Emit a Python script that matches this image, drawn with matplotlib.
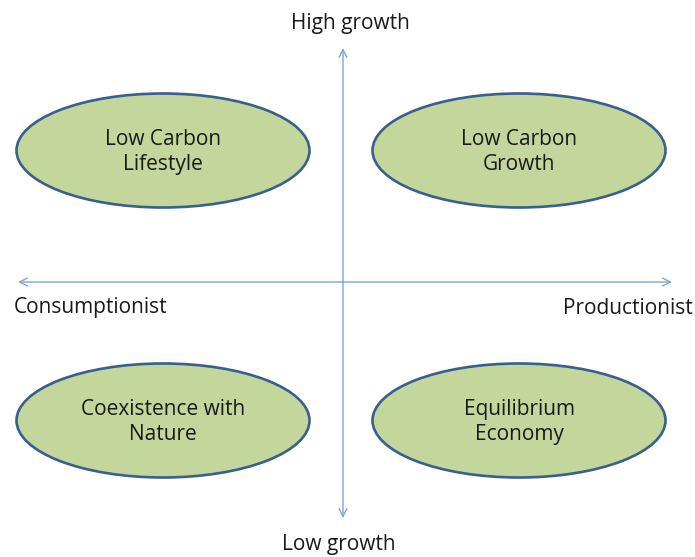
import matplotlib
matplotlib.use('Agg')

import matplotlib.pyplot as plt
from matplotlib.patches import Ellipse

# Quadrant scenarios and their (x, y) position on the 2x2 grid (-1 / +1)
scenarios = ['Low Carbon\nLifestyle', 'Low Carbon\nGrowth',
             'Coexistence with\nNature', 'Equilibrium\nEconomy']
scenario_x = [-1, 1, -1, 1]
scenario_y = [1, 1, -1, -1]

# Axis end labels
top_label = 'High growth'
bottom_label = 'Low growth'
left_label = 'Consumptionist'
right_label = 'Productionist'

plt.rcParams['font.family'] = ['Open Sans', 'DejaVu Sans']

W, H = 695, 557
fig = plt.figure(figsize=(W / 100, H / 100), dpi=100)
ax = fig.add_axes([0, 0, 1, 1])
# work in pixel units, y pointing down
ax.set_xlim(0, W)
ax.set_ylim(H, 0)
ax.axis('off')

# axes cross
ox, oy = 343, 282
axis_col = '#7FA3D7'
arrow = dict(arrowstyle='->', color=axis_col, lw=1.0, mutation_scale=14,
             shrinkA=0, shrinkB=0)
ax.annotate('', xy=(ox, 48), xytext=(ox, oy), arrowprops=arrow)
ax.annotate('', xy=(ox, 518), xytext=(ox, oy), arrowprops=arrow)
ax.annotate('', xy=(18, oy), xytext=(ox, oy), arrowprops=arrow)
ax.annotate('', xy=(672, oy), xytext=(ox, oy), arrowprops=arrow)

# ellipse grid: centre and half spacing
gx, gy = 341, 285.5
ux, uy = 178, 135

fs = 15
for name, qx, qy in zip(scenarios, scenario_x, scenario_y):
    ex = gx + qx * ux
    ey = gy - qy * uy
    ell = Ellipse((ex, ey), 293, 114, facecolor='#C3D69B',
                  edgecolor='#3A5F8E', lw=1.9, zorder=3)
    ax.add_patch(ell)
    ax.text(ex, ey + 1.5, name, ha='center', va='center', fontsize=fs,
            color='#1a1a1a', linespacing=1.2, zorder=4)

ax.text(350, 24, top_label, ha='center', va='center', fontsize=fs, color='#1a1a1a')
ax.text(339, 555, bottom_label, ha='center', va='bottom', fontsize=fs, color='#1a1a1a')
ax.text(14, 308, left_label, ha='left', va='center', fontsize=fs, color='#1a1a1a')
ax.text(693, 308, right_label, ha='right', va='center', fontsize=fs, color='#1a1a1a')

plt.savefig('out.png', dpi=100)
plt.close(fig)
